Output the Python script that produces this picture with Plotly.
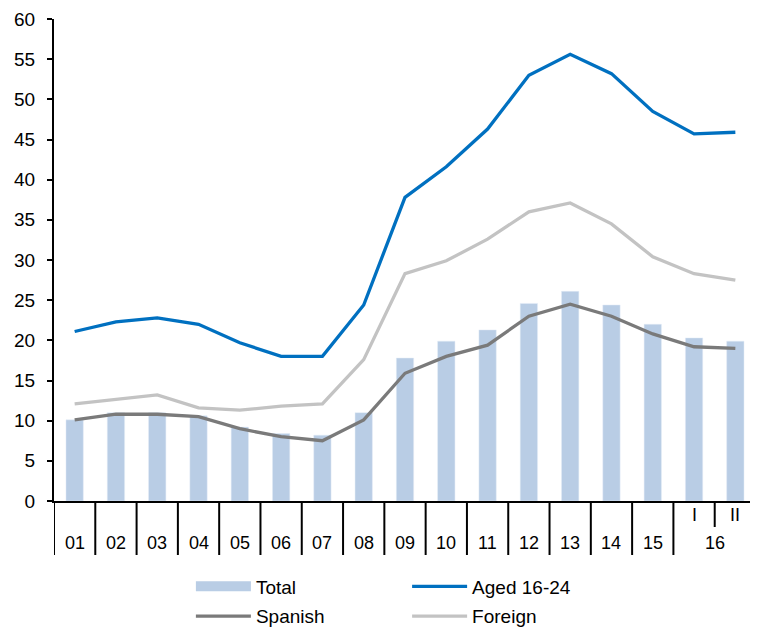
import plotly.graph_objects as go

years = ["01", "02", "03", "04", "05", "06", "07", "08", "09", "10", "11", "12", "13", "14", "15", "16", "16"]
subs = ["", "", "", "", "", "", "", "", "", "", "", "", "", "", "", "I", "II"]

total = [10.1, 11.0, 11.0, 10.6, 9.2, 8.4, 8.2, 11.0, 17.8, 19.9, 21.3, 24.6, 26.1, 24.4, 22.0, 20.3, 19.9]
aged_16_24 = [21.1, 22.3, 22.8, 22.0, 19.7, 18.0, 18.0, 24.4, 37.8, 41.6, 46.3, 53.0, 55.6, 53.2, 48.5, 45.7, 45.9]
spanish = [10.1, 10.8, 10.8, 10.5, 9.0, 8.0, 7.5, 10.1, 15.9, 18.0, 19.4, 23.0, 24.5, 23.0, 20.8, 19.2, 19.0]
foreign = [12.1, 12.6, 13.2, 11.6, 11.3, 11.8, 12.1, 17.6, 28.3, 29.9, 32.6, 36.0, 37.1, 34.5, 30.4, 28.3, 27.5]

C_TOTAL = "#B9CDE5"
C_AGED = "#0070C0"
C_SPAN = "#7A7A7A"
C_FOR = "#C3C3C3"
FONT = "Liberation Sans, Arial, sans-serif"

idx = list(range(len(years)))

fig = go.Figure()
fig.add_trace(go.Bar(x=idx, y=total, marker_color=C_TOTAL, width=0.42, showlegend=False, name="Total"))
fig.add_trace(go.Scatter(x=idx, y=aged_16_24, mode="lines", line=dict(color=C_AGED, width=3.3), showlegend=False))
fig.add_trace(go.Scatter(x=idx, y=foreign, mode="lines", line=dict(color=C_FOR, width=3.3), showlegend=False))
fig.add_trace(go.Scatter(x=idx, y=spanish, mode="lines", line=dict(color=C_SPAN, width=3.3), showlegend=False))

# legend entries: column 1 (Total, Spanish), column 2 (Aged 16-24, Foreign)
fig.add_trace(go.Scatter(x=[None], y=[None], mode="lines", name="Total", legend="legend", legendgroup="a",
                         line=dict(color=C_TOTAL, width=10)))
fig.add_trace(go.Scatter(x=[None], y=[None], mode="lines", name="Spanish", legend="legend", legendgroup="b",
                         line=dict(color=C_SPAN, width=3.3)))
fig.add_trace(go.Scatter(x=[None], y=[None], mode="lines", name="Aged 16-24", legend="legend2", legendgroup="c",
                         line=dict(color=C_AGED, width=3.3)))
fig.add_trace(go.Scatter(x=[None], y=[None], mode="lines", name="Foreign", legend="legend2", legendgroup="d",
                         line=dict(color=C_FOR, width=3.3)))

shapes = []
annotations = []
n = len(years)
groups = []
start = 0
for i in range(1, n + 1):
    if i == n or years[i] != years[start]:
        groups.append((start, i - 1))
        start = i
for (a, b) in groups:
    shapes.append(dict(type="line", xref="x", yref="paper", x0=a - 0.5, x1=a - 0.5, y0=0, y1=-0.112,
                       line=dict(color="black", width=2)))
    annotations.append(dict(x=(a + b) / 2, y=-0.087, xref="x", yref="paper", text=years[a], showarrow=False,
                            font=dict(size=18, color="black", family=FONT), yanchor="middle"))
    for k in range(a, b + 1):
        if subs[k]:
            annotations.append(dict(x=k, y=-0.029, xref="x", yref="paper", text=subs[k], showarrow=False,
                                    font=dict(size=18, color="black", family=FONT), yanchor="middle"))
        if k > a:
            shapes.append(dict(type="line", xref="x", yref="paper", x0=k - 0.5, x1=k - 0.5, y0=0, y1=-0.054,
                               line=dict(color="black", width=2)))
shapes.append(dict(type="line", xref="x", yref="paper", x0=n - 0.5, x1=n - 0.5, y0=0, y1=-0.112,
                   line=dict(color="black", width=2)))

leg_common = dict(orientation="v", yanchor="top", y=-0.138, xanchor="left", itemwidth=55,
                  font=dict(size=19, family=FONT, color="black"), bgcolor="rgba(0,0,0,0)",
                  tracegroupgap=2)

fig.update_layout(
    width=750, height=619,
    margin=dict(l=46, r=2, t=11, b=126, autoexpand=False),
    paper_bgcolor="white", plot_bgcolor="white",
    font=dict(family=FONT, size=18, color="black"),
    xaxis=dict(range=[-0.5, n - 0.5], showticklabels=False, ticks="", showgrid=False, zeroline=False,
               showline=True, linecolor="black", linewidth=2, fixedrange=True, automargin=False),
    yaxis=dict(range=[0, 60], dtick=5, tick0=0, showgrid=False, zeroline=False, showline=True,
               linecolor="black", linewidth=2, ticks="outside", ticklen=5, tickwidth=2, tickcolor="black",
               tickfont=dict(size=19, family=FONT, color="black"), ticklabelstandoff=8, automargin=False),
    legend=dict(x=0.195, **leg_common),
    legend2=dict(x=0.503, **leg_common),
    shapes=shapes,
    annotations=annotations,
)

fig.write_html("out.html")
